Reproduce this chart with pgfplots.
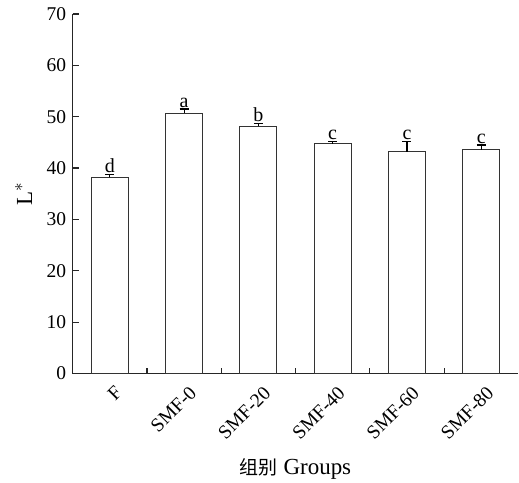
\documentclass[border=0pt]{standalone}
\usepackage{pgfplots}
\pgfplotsset{compat=1.18}
\usepackage{fontspec}
\setmainfont{Liberation Serif}
\newfontfamily\cjk{Noto Sans CJK SC}
\newcommand\tickfont{\fontsize{19.5bp}{22bp}\selectfont}
\newcommand\labfont{\fontsize{23bp}{26bp}\selectfont}
\begin{document}
\begin{tikzpicture}
\begin{axis}[
  name=ax,
  scale only axis,
  width=446.3bp, height=360bp,
  xmin=-0.5, xmax=5.5,
  ymin=0, ymax=70,
  ytick={0,10,...,70},
  xtick={0.5,1.5,2.5,3.5,4.5},
  xticklabels={},
  extra x ticks={0,1,2,3,4,5},
  extra x tick labels={F,SMF-0,SMF-20,SMF-40,SMF-60,SMF-80},
  extra x tick style={major tick length=0pt,
    tick label style={rotate=45, anchor=north east, inner sep=1bp, xshift=-4bp, yshift=-10bp}},
  axis x line*=bottom, axis y line*=left,
  axis line style={-, line width=1.2bp, black!85},
  tick align=inside,
  major tick length=6bp,
  tick style={line width=1.2bp, black!85},
  tick label style={font=\tickfont},
  label style={font=\labfont},
  /pgf/number format/assume math mode=true,
  yticklabel style={xshift=-3bp},
  ylabel={L$^{*}$},
  ylabel style={at={(axis description cs:-0.11,0.5)}, anchor=center},
  xlabel={{\cjk\fontsize{19bp}{22bp}\selectfont 组别} Groups},
  xlabel style={at={(axis description cs:0.5,-0.266)}, anchor=center},
  clip=false,
]
\addplot[ybar, bar width=37bp, fill=white, draw=black!80, line width=1bp,
  error bars/.cd, y dir=plus, y explicit,
  error bar style={line width=1.1bp, black},
  error mark options={rotate=90, mark size=4.5bp, line width=1.1bp, black}]
  coordinates {
  (0,38.2) +- (0,0.6)
  (1,50.7) +- (0,0.8)
  (2,48.1) +- (0,0.6)
  (3,44.7) +- (0,0.5)
  (4,43.2) +- (0,2.0)
  (5,43.6) +- (0,0.9)
  };
\addplot[draw=none, mark=none, nodes near coords, point meta=explicit symbolic,
  every node near coord/.style={anchor=south, inner sep=1.5bp, font=\fontsize{20bp}{22bp}\selectfont}]
  coordinates {
  (0,38.8) [d]
  (1,51.5) [a]
  (2,48.7) [b]
  (3,45.2) [c]
  (4,45.2) [c]
  (5,44.5) [c]
  };
\end{axis}
\path ([shift={(-72.7bp,-108bp)}]ax.south west) rectangle ([shift={(0bp,14bp)}]ax.north east);
\end{tikzpicture}
\end{document}
